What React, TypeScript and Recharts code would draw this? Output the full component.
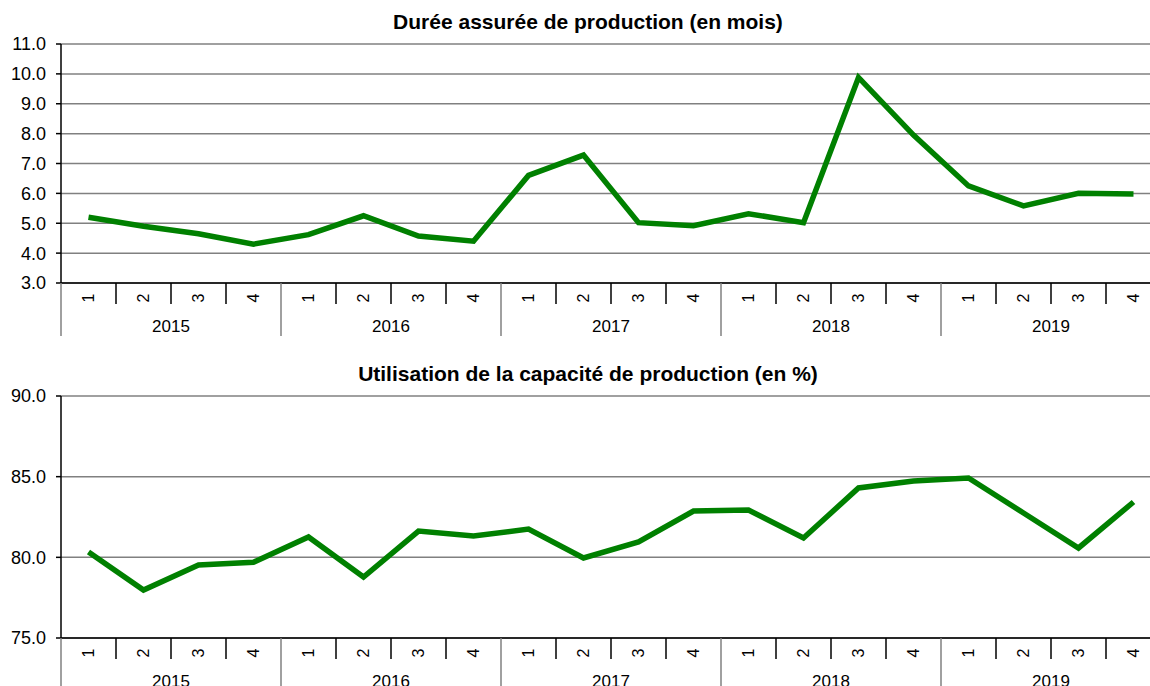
import { LineChart, Line, XAxis, YAxis, CartesianGrid } from 'recharts'

const years = ['2015', '2016', '2017', '2018', '2019']
const quarters = ['1', '2', '3', '4']

const dureeValues = [
  5.2, 4.9, 4.65, 4.3,
  4.62, 5.25, 4.57, 4.4,
  6.6, 7.28, 5.02, 4.92,
  5.32, 5.02, 9.88, 7.95,
  6.25, 5.58, 6.0, 5.98,
]

const capaciteValues = [
  80.33, 77.97, 79.52, 79.7,
  81.26, 78.78, 81.63, 81.32,
  81.75, 79.96, 80.95, 82.87,
  82.93, 81.2, 84.3, 84.73,
  84.92, 82.75, 80.58, 83.43,
]

const dureeTicks = [3, 4, 5, 6, 7, 8, 9, 10, 11]
const capaciteTicks = [75, 80, 85, 90]

const FONT = 'Arial, "Liberation Sans", Helvetica, sans-serif'
const CHART_W = 1170
const PLOT_W = 1100 // 61 -> 1161
const HALF_BAND = PLOT_W / 20 / 2

const rows = years.flatMap((year, yi) =>
  quarters.map((q, qi) => ({
    key: `${year}-${q}`,
    quarter: q,
    year,
    duree: dureeValues[yi * 4 + qi],
    capacite: capaciteValues[yi * 4 + qi],
  })),
)

function QuarterTick(props: any) {
  const { x, y, index } = props
  const half = props.payload?.offset || HALF_BAND
  const row = rows[index]
  if (!row) return null
  const first = index % 4 === 0
  const last = index === rows.length - 1
  return (
    <g>
      <line
        x1={x - half}
        x2={x - half}
        y1={y}
        y2={y + (first ? 53 : 21)}
        stroke={first ? '#808080' : '#000'}
        strokeWidth={1.5}
      />
      {last && (
        <line x1={x + half} x2={x + half} y1={y} y2={y + 53} stroke="#808080" strokeWidth={1.5} />
      )}
      <text
        x={0}
        y={0}
        transform={`translate(${x + 5},${y + 15}) rotate(-90)`}
        textAnchor="middle"
        fontSize={16}
        fontFamily={FONT}
        fill="#000"
      >
        {row.quarter}
      </text>
      {index % 4 === 1 && (
        <text
          x={x + half}
          y={y + 49}
          textAnchor="middle"
          fontSize={17}
          fontFamily={FONT}
          fill="#000"
        >
          {row.year}
        </text>
      )}
    </g>
  )
}

function Panel({
  title,
  dataKey,
  domain,
  ticks,
  top,
  xHeight,
}: {
  title: string
  dataKey: string
  domain: [number, number]
  ticks: number[]
  top: number
  xHeight: number
}) {
  return (
    <div style={{ position: 'absolute', left: 0, top, width: CHART_W, height: 345 }}>
      <div
        style={{
          position: 'absolute',
          left: 0,
          top: 11,
          width: 1176,
          textAlign: 'center',
          fontFamily: FONT,
          fontWeight: 'bold',
          fontSize: 21,
          lineHeight: '22px',
          color: '#000',
        }}
      >
        {title}
      </div>
      <LineChart
        width={CHART_W}
        height={345}
        data={rows}
        margin={{ top: 44, right: 9, bottom: 0, left: 6 }}
      >
        <CartesianGrid vertical={false} stroke="#808080" strokeWidth={1.5} />
        <XAxis
          dataKey="key"
          scale="band"
          interval={0}
          height={xHeight}
          tickSize={0}
          tickMargin={0}
          tickLine={false}
          axisLine={{ stroke: '#000', strokeWidth: 1.5 }}
          tick={QuarterTick}
        />
        <YAxis
          width={55}
          domain={domain}
          ticks={ticks}
          interval={0}
          allowDataOverflow
          tickSize={5}
          tickMargin={10}
          tickFormatter={(v: number) => v.toFixed(1)}
          tick={{ fontSize: 18, fontFamily: FONT, fill: '#000' }}
          tickLine={{ stroke: '#000', strokeWidth: 1.5 }}
          axisLine={{ stroke: '#000', strokeWidth: 1.5 }}
        />
        <Line
          type="linear"
          dataKey={dataKey}
          stroke="#008000"
          strokeWidth={5.5}
          dot={false}
          activeDot={false}
          isAnimationActive={false}
        />
      </LineChart>
    </div>
  )
}

export default function App() {
  return (
    <div
      style={{
        position: 'absolute',
        left: 0,
        top: 0,
        width: 1150,
        height: 686,
        overflow: 'hidden',
        background: '#fff',
      }}
    >
      <Panel
        title="Durée assurée de production (en mois)"
        dataKey="duree"
        domain={[3, 11]}
        ticks={dureeTicks}
        top={0}
        xHeight={62}
      />
      <Panel
        title="Utilisation de la capacité de production (en %)"
        dataKey="capacite"
        domain={[75, 90]}
        ticks={capaciteTicks}
        top={352}
        xHeight={59}
      />
    </div>
  )
}
